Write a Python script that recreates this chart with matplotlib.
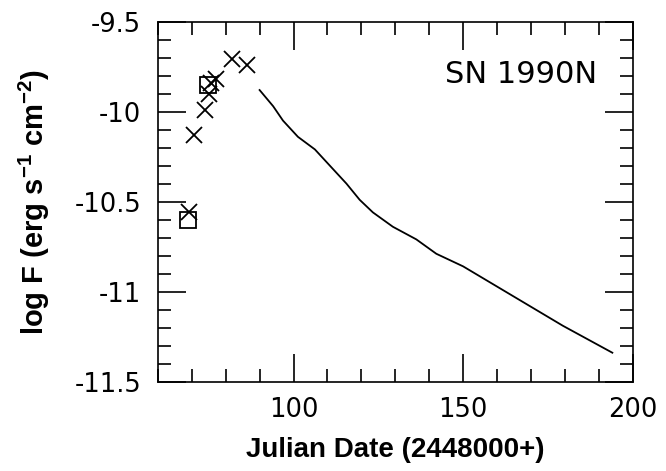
import matplotlib
matplotlib.use("Agg")
import matplotlib.pyplot as plt
from matplotlib.ticker import MultipleLocator

plt.rcParams["font.family"] = "DejaVu Sans"
plt.rcParams["axes.unicode_minus"] = False
plt.rcParams["mathtext.fontset"] = "custom"
plt.rcParams["mathtext.rm"] = "Liberation Sans"
plt.rcParams["mathtext.bf"] = "Liberation Sans:bold"

# dane
krzyzyki_x = [69.2, 70.6, 73.8, 75.0, 75.8, 77.1, 81.9, 86.4]
krzyzyki_y = [-10.56, -10.13, -9.99, -9.90, -9.84, -9.82, -9.71, -9.74]
kwadraty_x = [69.0, 74.8]
kwadraty_y = [-10.60, -9.85]
model_x = [90.0, 94.0, 96.9, 101.3, 106.3, 110.7, 115.6, 119.5, 123.4, 129.3,
           136.2, 142.1, 150.0, 159.8, 169.6, 179.4, 194.0]
model_y = [-9.88, -9.97, -10.05, -10.14, -10.21, -10.30, -10.40, -10.49, -10.56, -10.64,
           -10.71, -10.79, -10.86, -10.97, -11.08, -11.19, -11.34]
yticks = [-9.5, -10, -10.5, -11, -11.5]
ytick_labels = ["-9.5", "-10", "-10.5", "-11", "-11.5"]
xticks = [100, 150, 200]

fig = plt.figure(figsize=(6.66, 4.71), dpi=100)
ax = fig.add_axes([0.237, 0.19, 0.713, 0.764])

ax.plot(model_x, model_y, color="black", lw=1.3)
ax.plot(krzyzyki_x, krzyzyki_y, ls="none", marker="x", ms=12, mew=1.3, color="black")
ax.plot(kwadraty_x, kwadraty_y, ls="none", marker="s", ms=11, mew=1.3,
        mfc="none", mec="black")

ax.set_xlim(60, 200)
ax.set_ylim(-11.5, -9.5)
ax.set_xticks(xticks)
ax.set_yticks(yticks)
ax.set_yticklabels(ytick_labels)
ax.xaxis.set_minor_locator(MultipleLocator(10))
ax.yaxis.set_minor_locator(MultipleLocator(0.1))

ax.tick_params(which="both", direction="in", top=True, right=True, width=1.2, labelsize=18.5)
ax.tick_params(which="major", length=20)
ax.tick_params(which="minor", length=9.5)
ax.tick_params(axis="x", which="major", pad=11)
ax.tick_params(axis="y", which="major", pad=12)
for s in ax.spines.values():
    s.set_linewidth(1.2)

ax.set_xlabel("Julian Date (2448000+)", fontsize=20, fontweight="bold",
              family="Liberation Sans", labelpad=10)
ax.set_ylabel(r"log F (erg s$^{\mathbf{-1}}$ cm$^{\mathbf{-2}}$)", fontsize=21,
              fontweight="bold", family="Liberation Sans")
ax.yaxis.set_label_coords(-0.223, 0.5)

ax.text(0.926, 0.852, "SN 1990N", transform=ax.transAxes, ha="right", va="center", fontsize=22)

fig.savefig("out.png", dpi=100)
